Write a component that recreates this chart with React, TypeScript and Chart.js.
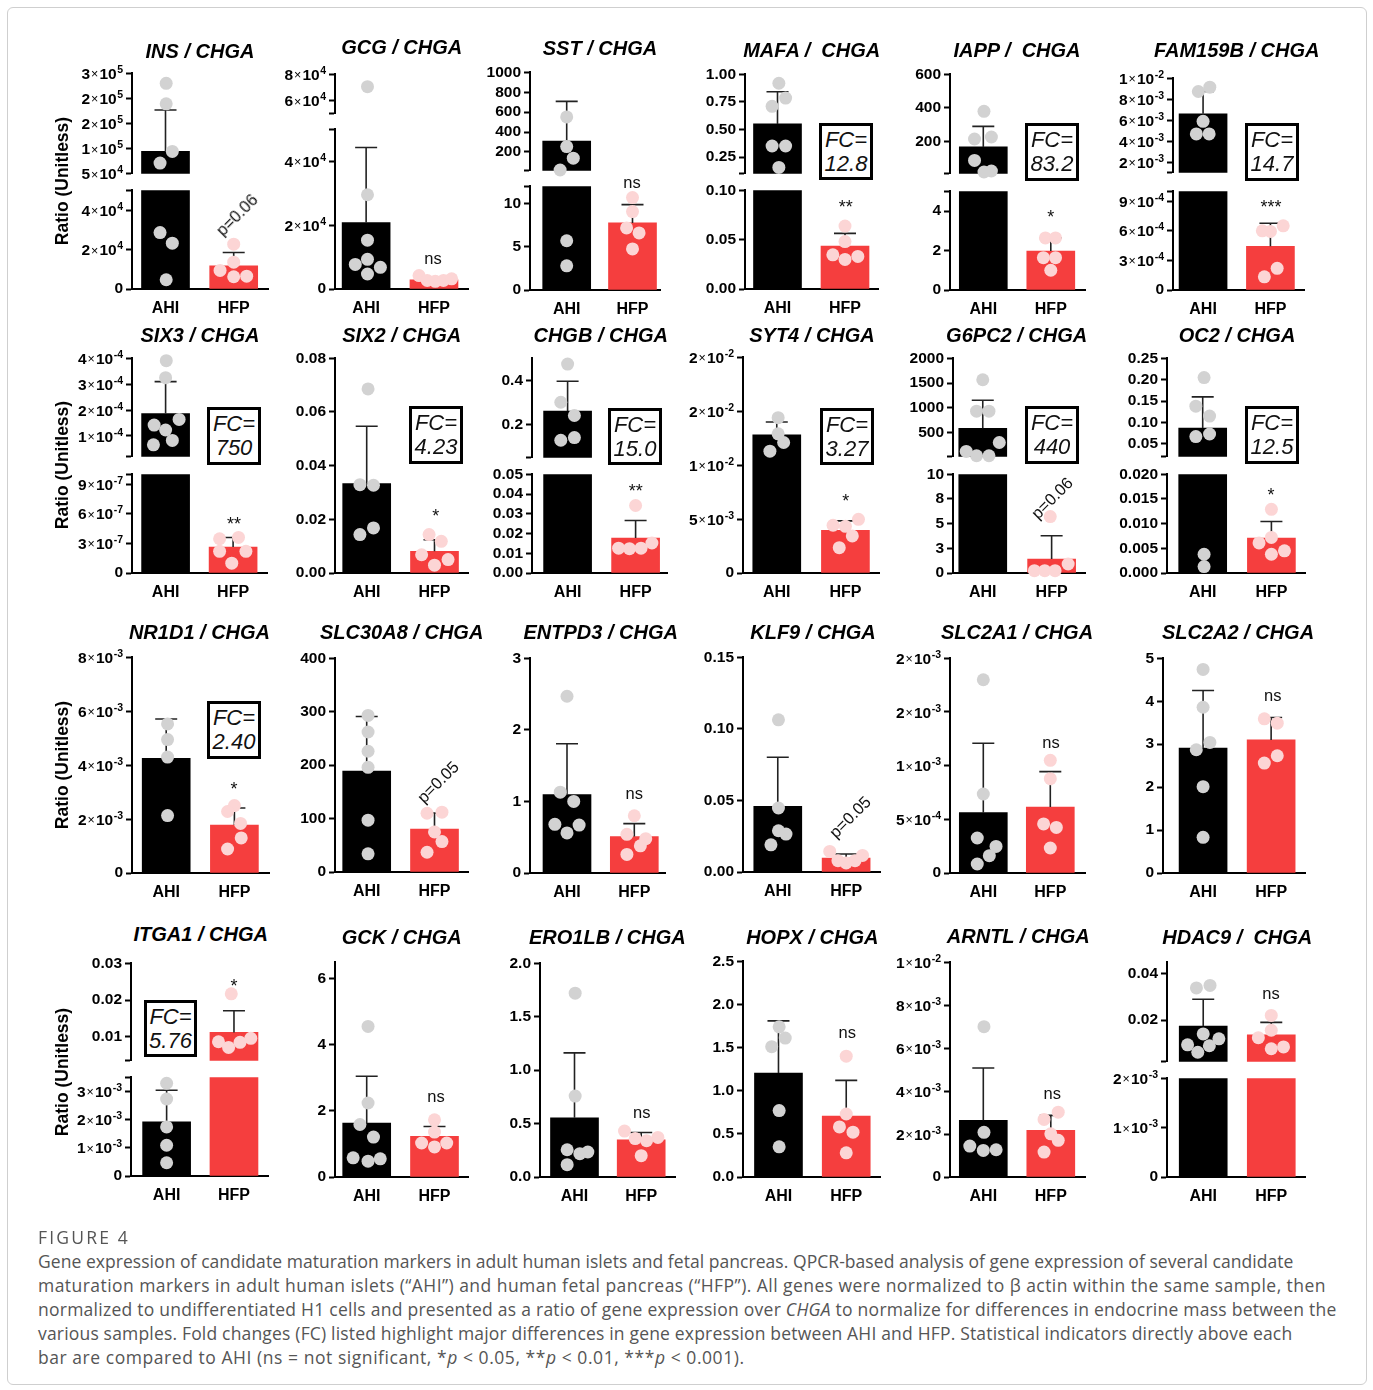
import React, { useEffect, useRef } from "react";
import { Chart, registerables } from "chart.js";

Chart.register(...registerables);

// ---------------- data ----------------
const CATEGORIES = ["AHI", "HFP"];

const INS_AHI = [2.75e5, 2.24e5, 1.055e5, 7.65e4, 2.86e4, 2.32e4, 4.7e3];
const INS_AHI_X = [0.01, 0.01, 0.1, -0.08, -0.08, 0.1, 0.01];
const INS_HFP = [2.27e4, 1.36e4, 9.4e3, 6.5e3, 6.2e3];
const INS_HFP_X = [0, 0, -0.2, 0.19, 0];
const INS_MEAN = [1.055e5, 1.18e4];
const INS_SD = [1.03e5, 6.7e3];
const INS_T_HI = [5e4, 1.125e5, 1.75e5, 2.375e5, 3e5];
const INS_L_HI = ["5×10⁴", "1×10⁵", "2×10⁵", "2×10⁵", "3×10⁵"];
const INS_T_LO = [0, 2e4, 4e4, 5e4];
const INS_L_LO = ["0", "2×10⁴", "4×10⁴", ""];

const GCG_AHI = [7.06e4, 2.95e4, 1.53e4, 9.3e3, 7.7e3, 6.8e3, 4.7e3];
const GCG_AHI_X = [0.02, 0.02, 0.02, 0.02, -0.16, 0.21, 0.02];
const GCG_HFP = [4.2e3, 2.7e3, 2.4e3, 2.7e3, 3.2e3];
const GCG_HFP_X = [-0.22, -0.1, 0.02, 0.14, 0.26];
const GCG_MEAN = [2.08e4, 2.9e3];
const GCG_SD = [2.35e4, 6e2];
const GCG_T_HI = [5e4, 6e4, 8e4];
const GCG_L_HI = ["", "6×10⁴", "8×10⁴"];
const GCG_T_LO = [0, 2e4, 4e4, 5e4];
const GCG_L_LO = ["0", "2×10⁴", "4×10⁴", ""];

const SST_AHI = [552, 254, 138, 19, 5.7, 2.8];
const SST_AHI_X = [0, 0, 0.1, -0.1, 0, 0];
const SST_HFP = [10.7, 9.07, 7.18, 6.6, 4.75];
const SST_HFP_X = [0, 0, -0.09, 0.1, 0];
const SST_MEAN = [310, 7.76];
const SST_SD = [398, 2.12];
const SST_T_HI = [12, 200, 400, 600, 800, 1000];
const SST_L_HI = ["", "200", "400", "600", "800", "1000"];
const SST_T_LO = [0, 5, 10, 12];
const SST_L_LO = ["0", "5", "10", ""];

const MAFA_AHI = [0.919, 0.785, 0.71, 0.351, 0.351, 0.157];
const MAFA_AHI_X = [0.02, 0.12, -0.08, -0.08, 0.12, 0.02];
const MAFA_HFP = [0.0638, 0.048, 0.0346, 0.03, 0.033];
const MAFA_HFP_X = [0, 0, -0.18, 0, 0.19];
const MAFA_MEAN = [0.551, 0.0436];
const MAFA_SD = [0.291, 0.0128];
const MAFA_T_HI = [0.1, 0.25, 0.5, 0.75, 1.0];
const MAFA_L_HI = ["", "0.25", "0.50", "0.75", "1.00"];
const MAFA_T_LO = [0, 0.05, 0.1];
const MAFA_L_LO = ["0.00", "0.05", "0.10"];

const IAPP_AHI = [380, 228, 216, 89, 26, 20];
const IAPP_AHI_X = [0.01, 0.12, -0.13, -0.13, 0.12, 0.01];
const IAPP_HFP = [2.64, 2.64, 1.64, 1.64, 1.0];
const IAPP_HFP_X = [-0.08, 0.07, -0.11, 0.07, 0];
const IAPP_MEAN = [169, 1.97];
const IAPP_SD = [122, 0.67];
const IAPP_T_HI = [10, 200, 400, 600];
const IAPP_L_HI = ["", "200", "400", "600"];
const IAPP_T_LO = [0, 2, 4, 5];
const IAPP_L_LO = ["0", "2", "4", ""];

const FAM_AHI = [9.15e-3, 8.74e-3, 5.9e-3, 4.7e-3, 4.7e-3];
const FAM_AHI_X = [0.1, -0.07, 0, -0.1, 0.09];
const FAM_HFP = [6.5e-4, 5.93e-4, 6.0e-4, 2.2e-4, 1.33e-4];
const FAM_HFP_X = [0.19, 0.0, -0.12, 0.1, -0.09];
const FAM_MEAN = [6.62e-3, 4.43e-4];
const FAM_SD = [2.12e-3, 2.34e-4];
const FAM_T_HI = [1e-3, 2e-3, 4e-3, 6e-3, 8e-3, 1e-2];
const FAM_L_HI = ["", "2×10⁻³", "4×10⁻³", "6×10⁻³", "8×10⁻³", "1×10⁻²"];
const FAM_T_LO = [0, 3e-4, 6e-4, 9e-4, 1e-3];
const FAM_L_LO = ["0", "3×10⁻⁴", "6×10⁻⁴", "9×10⁻⁴", ""];

const SIX3_AHI = [3.91e-4, 3.25e-4, 1.64e-4, 1.42e-4, 1.23e-4, 8.3e-5, 6.6e-5];
const SIX3_AHI_X = [0.01, 0.0, 0.2, -0.17, 0.0, 0.1, -0.18];
const SIX3_HFP = [3.47e-7, 3.6e-7, 2.2e-7, 2.2e-7, 1.0e-7];
const SIX3_HFP_X = [-0.2, 0.08, 0.19, -0.2, -0.02];
const SIX3_MEAN = [1.87e-4, 2.63e-7];
const SIX3_SD = [1.23e-4, 9.7e-8];
const SIX3_T_HI = [2e-5, 1e-4, 2e-4, 3e-4, 4e-4];
const SIX3_L_HI = ["", "1×10⁻⁴", "2×10⁻⁴", "3×10⁻⁴", "4×10⁻⁴"];
const SIX3_T_LO = [0, 3e-7, 6e-7, 9e-7, 1e-6];
const SIX3_L_LO = ["0", "3×10⁻⁷", "6×10⁻⁷", "9×10⁻⁷", ""];

const SIX2_AHI = [0.0686, 0.0329, 0.0327, 0.0168, 0.0143];
const SIX2_AHI_X = [0.02, -0.1, 0.1, 0.1, -0.1];
const SIX2_HFP = [0.0143, 0.0118, 0.0068, 0.005, 0.0029];
const SIX2_HFP_X = [-0.08, 0.1, -0.19, 0.2, 0.0];
const SIX2_MEAN = [0.0333, 0.0081];
const SIX2_SD = [0.0214, 0.0043];
const SIX2_T = [0, 0.02, 0.04, 0.06, 0.08];
const SIX2_L = ["0.00", "0.02", "0.04", "0.06", "0.08"];

const CHGB_AHI = [0.474, 0.301, 0.241, 0.141, 0.129];
const CHGB_AHI_X = [0, -0.1, 0.1, 0.1, -0.1];
const CHGB_HFP = [0.0342, 0.0152, 0.0126, 0.0126, 0.0123];
const CHGB_HFP_X = [0, 0.24, -0.25, 0.08, -0.09];
const CHGB_MEAN = [0.261, 0.0177];
const CHGB_SD = [0.135, 0.0089];
const CHGB_T_HI = [0.05, 0.2, 0.4];
const CHGB_L_HI = ["", "0.2", "0.4"];
const CHGB_T_LO = [0, 0.01, 0.02, 0.03, 0.04, 0.05];
const CHGB_L_LO = ["0.00", "0.01", "0.02", "0.03", "0.04", "0.05"];

const SYT4_AHI = [0.0144, 0.0129, 0.0121, 0.0113];
const SYT4_AHI_X = [0.02, 0.02, 0.1, -0.1];
const SYT4_HFP = [0.00498, 0.00443, 0.00433, 0.00344, 0.00235];
const SYT4_HFP_X = [0.19, -0.18, 0, 0.1, -0.09];
const SYT4_MEAN = [0.0128, 0.00396];
const SYT4_SD = [0.0012, 0.00087];
const SYT4_T = [0, 0.005, 0.01, 0.015, 0.02];
const SYT4_L = ["0", "5×10⁻³", "1×10⁻²", "2×10⁻²", "2×10⁻²"];

const G6PC2_AHI = [1566, 931, 931, 297, 116, 29, 29];
const G6PC2_AHI_X = [0, -0.09, 0.09, 0.24, -0.24, -0.09, 0.09];
const G6PC2_HFP = [5.72, 0.91, 0.24, 0.24, 0.24];
const G6PC2_HFP_X = [-0.02, 0.24, -0.25, -0.1, 0.05];
const G6PC2_MEAN = [584, 1.41];
const G6PC2_SD = [568, 2.36];
const G6PC2_T_HI = [10, 500, 1000, 1500, 2000];
const G6PC2_L_HI = ["", "500", "1000", "1500", "2000"];
const G6PC2_T_LO = [0, 2.5, 5, 7.5, 10];
const G6PC2_L_LO = ["0", "3", "5", "8", "10"];

const OC2_AHI = [0.205, 0.138, 0.115, 0.073, 0.067, 0.0038, 0.0013];
const OC2_AHI_X = [0.02, -0.1, 0.1, 0.1, -0.1, 0.02, 0.02];
const OC2_HFP = [0.0129, 0.0072, 0.0061, 0.0045, 0.0038];
const OC2_HFP_X = [0, 0, -0.18, 0.19, 0];
const OC2_MEAN = [0.0869, 0.00707];
const OC2_SD = [0.073, 0.00337];
const OC2_T_HI = [0.02, 0.05, 0.1, 0.15, 0.2, 0.25];
const OC2_L_HI = ["", "0.05", "0.10", "0.15", "0.20", "0.25"];
const OC2_T_LO = [0, 0.005, 0.01, 0.015, 0.02];
const OC2_L_LO = ["0.000", "0.005", "0.010", "0.015", "0.020"];

const NR1D1_AHI = [5.53e-3, 4.95e-3, 4.3e-3, 2.13e-3];
const NR1D1_AHI_X = [0.02, 0.02, 0.02, 0.02];
const NR1D1_HFP = [2.5e-3, 2.28e-3, 1.84e-3, 1.3e-3, 0.89e-3];
const NR1D1_HFP_X = [0, -0.1, 0.09, 0.1, -0.1];
const NR1D1_MEAN = [4.25e-3, 1.78e-3];
const NR1D1_SD = [1.46e-3, 6.3e-4];
const NR1D1_T = [0, 2e-3, 4e-3, 6e-3, 8e-3];
const NR1D1_L = ["0", "2×10⁻³", "4×10⁻³", "6×10⁻³", "8×10⁻³"];

const SLC30A8_AHI = [293, 262, 226, 196, 97, 34];
const SLC30A8_AHI_X = [0.02, 0.02, 0.02, 0.02, 0.02, 0.02];
const SLC30A8_HFP = [112, 110, 75, 57, 37];
const SLC30A8_HFP_X = [0.11, -0.11, 0, 0.11, -0.11];
const SLC30A8_MEAN = [189, 80.4];
const SLC30A8_SD = [102, 30];
const SLC30A8_T = [0, 100, 200, 300, 400];
const SLC30A8_L = ["0", "100", "200", "300", "400"];

const ENTPD3_AHI = [2.47, 1.13, 1.0, 0.68, 0.67, 0.56];
const ENTPD3_AHI_X = [0, -0.1, 0.1, -0.18, 0.18, 0];
const ENTPD3_HFP = [0.8, 0.54, 0.48, 0.38, 0.26];
const ENTPD3_HFP_X = [0, -0.11, 0.17, 0.09, -0.11];
const ENTPD3_MEAN = [1.095, 0.51];
const ENTPD3_SD = [0.71, 0.18];
const ENTPD3_T = [0, 1, 2, 3];
const ENTPD3_L = ["0", "1", "2", "3"];

const KLF9_AHI = [0.1063, 0.0447, 0.0288, 0.0265, 0.019];
const KLF9_AHI_X = [0.01, 0.01, 0.01, 0.12, -0.1];
const KLF9_HFP = [0.0144, 0.0079, 0.0063, 0.0079, 0.0116];
const KLF9_HFP_X = [-0.24, -0.12, 0, 0.13, 0.24];
const KLF9_MEAN = [0.0458, 0.0098];
const KLF9_SD = [0.0344, 0.0028];
const KLF9_T = [0, 0.05, 0.1, 0.15];
const KLF9_L = ["0.00", "0.05", "0.10", "0.15"];

const SLC2A1_AHI = [1.8e-3, 7.36e-4, 3.26e-4, 2.48e-4, 1.61e-4, 8.4e-5];
const SLC2A1_AHI_X = [0, 0, -0.09, 0.19, 0.09, -0.09];
const SLC2A1_HFP = [1.05e-3, 8.79e-4, 4.57e-4, 4.25e-4, 2.33e-4];
const SLC2A1_HFP_X = [0, 0, -0.1, 0.09, 0];
const SLC2A1_MEAN = [5.62e-4, 6.15e-4];
const SLC2A1_SD = [6.46e-4, 3.29e-4];
const SLC2A1_T = [0, 5e-4, 1e-3, 1.5e-3, 2e-3];
const SLC2A1_L = ["0", "5×10⁻⁴", "1×10⁻³", "2×10⁻³", "2×10⁻³"];

const SLC2A2_AHI = [4.74, 3.86, 3.04, 2.87, 2.01, 0.83];
const SLC2A2_AHI_X = [0, 0, 0.1, -0.1, 0, 0];
const SLC2A2_HFP = [3.59, 3.49, 2.73, 2.56];
const SLC2A2_HFP_X = [-0.1, 0.09, 0.09, -0.1];
const SLC2A2_MEAN = [2.91, 3.1];
const SLC2A2_SD = [1.34, 0.52];
const SLC2A2_T = [0, 1, 2, 3, 4, 5];
const SLC2A2_L = ["0", "1", "2", "3", "4", "5"];

const ITGA1_AHI = [3.29e-3, 2.73e-3, 1.74e-3, 1.09e-3, 4.7e-4];
const ITGA1_AHI_X = [0, 0, 0, 0, 0];
const ITGA1_HFP = [0.0217, 0.0096, 0.00865, 0.0085, 0.0071];
const ITGA1_HFP_X = [-0.04, 0.25, -0.23, 0.09, -0.08];
const ITGA1_MEAN = [1.92e-3, 0.0112];
const ITGA1_SD = [1.12e-3, 0.0059];
const ITGA1_T_HI = [3.5e-3, 0.01, 0.02, 0.03];
const ITGA1_L_HI = ["", "0.01", "0.02", "0.03"];
const ITGA1_T_LO = [0, 1e-3, 2e-3, 3e-3, 3.5e-3];
const ITGA1_L_LO = ["0", "1×10⁻³", "2×10⁻³", "3×10⁻³", ""];

const GCK_AHI = [4.56, 2.24, 1.59, 1.21, 0.58, 0.55, 0.48];
const GCK_AHI_X = [0.02, 0.02, -0.1, 0.1, -0.2, 0.2, 0.02];
const GCK_HFP = [1.73, 1.36, 1.03, 1.03, 0.91];
const GCK_HFP_X = [0, 0, -0.19, 0.18, 0];
const GCK_MEAN = [1.63, 1.23];
const GCK_SD = [1.42, 0.3];
const GCK_T = [0, 2, 4, 6];
const GCK_L = ["0", "2", "4", "6"];

const ERO1LB_AHI = [1.72, 0.757, 0.255, 0.234, 0.218, 0.115];
const ERO1LB_AHI_X = [0.01, 0.01, -0.11, 0.2, 0.08, -0.11];
const ERO1LB_HFP = [0.43, 0.37, 0.36, 0.34, 0.2];
const ERO1LB_HFP_X = [-0.25, 0.25, -0.09, 0.08, 0];
const ERO1LB_MEAN = [0.554, 0.349];
const ERO1LB_SD = [0.608, 0.068];
const ERO1LB_T = [0, 0.5, 1, 1.5, 2];
const ERO1LB_L = ["0.0", "0.5", "1.0", "1.5", "2.0"];

const HOPX_AHI = [1.74, 1.61, 1.51, 0.77, 0.35];
const HOPX_AHI_X = [0.01, 0.1, -0.1, 0.01, 0.01];
const HOPX_HFP = [1.4, 0.73, 0.58, 0.52, 0.28];
const HOPX_HFP_X = [0, 0, -0.1, 0.1, 0];
const HOPX_MEAN = [1.205, 0.707];
const HOPX_SD = [0.605, 0.413];
const HOPX_T = [0, 0.5, 1, 1.5, 2, 2.5];
const HOPX_L = ["0.0", "0.5", "1.0", "1.5", "2.0", "2.5"];

const ARNTL_AHI = [7.0e-3, 2.08e-3, 1.44e-3, 1.27e-3, 1.24e-3];
const ARNTL_AHI_X = [0.01, 0.01, -0.2, 0.19, 0];
const ARNTL_HFP = [3.02e-3, 2.68e-3, 2.01e-3, 1.71e-3, 1.16e-3];
const ARNTL_HFP_X = [0.11, -0.1, 0, 0.11, -0.1];
const ARNTL_MEAN = [2.64e-3, 2.17e-3];
const ARNTL_SD = [2.44e-3, 0.7e-3];
const ARNTL_T = [0, 2e-3, 4e-3, 6e-3, 8e-3, 1e-2];
const ARNTL_L = ["0", "2×10⁻³", "4×10⁻³", "6×10⁻³", "8×10⁻³", "1×10⁻²"];

const HDAC9_AHI = [0.035, 0.0339, 0.014, 0.0119, 0.0093, 0.0089, 0.0061];
const HDAC9_AHI_X = [0.1, -0.1, 0, 0.23, -0.23, 0.09, -0.08];
const HDAC9_HFP = [0.022, 0.0156, 0.0124, 0.0084, 0.0076];
const HDAC9_HFP_X = [0, 0, -0.19, 0.18, 0];
const HDAC9_MEAN = [0.01743, 0.0136];
const HDAC9_SD = [0.0116, 0.0054];
const HDAC9_T_HI = [0.002, 0.02, 0.04];
const HDAC9_L_HI = ["", "0.02", "0.04"];
const HDAC9_T_LO = [0, 1e-3, 2e-3];
const HDAC9_L_LO = ["0", "1×10⁻³", "2×10⁻³"];

// ---------------- styles / layout ----------------
const FONT = '"Liberation Sans", Arial, Helvetica, sans-serif';
const BAR_AHI = "#000000";
const BAR_HFP = "#f53e3e";
const DOT_AHI = "#d2d2d2";
const DOT_HFP = "#fcd5d5";
const LW = 96;
const PR = 8;
const PAD = 12;
const PB = 34;
const TICK_LEN = 6;
const TICK_PAD = 3;
const TICK_SIZE = 15.5;

type Seg = { min: number; max: number; ticks: number[]; labels: string[]; top: number; bottom: number };
const S = (min: number, max: number, ticks: number[], labels: string[], top: number, bottom: number): Seg => ({ min, max, ticks, labels, top, bottom });

const PANELS: any[] = [
  { title: "INS / CHGA", tx: 200, ty: 51.7, L: 132.3, R: 268.3, c0: 165.8, c1: 234,
    segs: [S(5e4, 3e5, INS_T_HI, INS_L_HI, 73.3, 174), S(0, 5e4, INS_T_LO, INS_L_LO, 190, 289.3)],
    ahi: INS_AHI, ahiX: INS_AHI_X, hfp: INS_HFP, hfpX: INS_HFP_X, mean: INS_MEAN, sd: INS_SD },
  { title: "GCG / CHGA", tx: 401.7, ty: 48, L: 335, R: 468.3, c0: 366.2, c1: 434.2,
    segs: [S(5e4, 8e4, GCG_T_HI, GCG_L_HI, 73.7, 114), S(0, 5e4, GCG_T_LO, GCG_L_LO, 129.3, 289.3)],
    ahi: GCG_AHI, ahiX: GCG_AHI_X, hfp: GCG_HFP, hfpX: GCG_HFP_X, mean: GCG_MEAN, sd: GCG_SD },
  { title: "SST / CHGA", tx: 600, ty: 48.5, L: 530, R: 660, c0: 566.7, c1: 632.5,
    segs: [S(12, 1000, SST_T_HI, SST_L_HI, 72.3, 171.7), S(0, 12, SST_T_LO, SST_L_LO, 185.7, 289.3)],
    ahi: SST_AHI, ahiX: SST_AHI_X, hfp: SST_HFP, hfpX: SST_HFP_X, mean: SST_MEAN, sd: SST_SD },
  { title: "MAFA /  CHGA", tx: 811.7, ty: 51, L: 745, R: 878, c0: 777.5, c1: 845,
    segs: [S(0.1, 1.0, MAFA_T_HI, MAFA_L_HI, 74.3, 174), S(0, 0.1, MAFA_T_LO, MAFA_L_LO, 190, 289.3)],
    ahi: MAFA_AHI, ahiX: MAFA_AHI_X, hfp: MAFA_HFP, hfpX: MAFA_HFP_X, mean: MAFA_MEAN, sd: MAFA_SD },
  { title: "IAPP /  CHGA", tx: 1017, ty: 51, L: 950, R: 1085, c0: 983.3, c1: 1050.8,
    segs: [S(10, 600, IAPP_T_HI, IAPP_L_HI, 74.3, 174.3), S(0, 5, IAPP_T_LO, IAPP_L_LO, 190.7, 289.3)],
    ahi: IAPP_AHI, ahiX: IAPP_AHI_X, hfp: IAPP_HFP, hfpX: IAPP_HFP_X, mean: IAPP_MEAN, sd: IAPP_SD },
  { title: "FAM159B / CHGA", tx: 1236.7, ty: 51, L: 1173.3, R: 1304, c0: 1203.3, c1: 1270.5,
    segs: [S(1e-3, 1e-2, FAM_T_HI, FAM_L_HI, 78.3, 173.3), S(0, 1e-3, FAM_T_LO, FAM_L_LO, 190.7, 289.3)],
    ahi: FAM_AHI, ahiX: FAM_AHI_X, hfp: FAM_HFP, hfpX: FAM_HFP_X, mean: FAM_MEAN, sd: FAM_SD },

  { title: "SIX3 / CHGA", tx: 200, ty: 335.7, L: 132.3, R: 267.7, c0: 166, c1: 233.7,
    segs: [S(2e-5, 4e-4, SIX3_T_HI, SIX3_L_HI, 358.3, 457.7), S(0, 1e-6, SIX3_T_LO, SIX3_L_LO, 474.3, 573.3)],
    ahi: SIX3_AHI, ahiX: SIX3_AHI_X, hfp: SIX3_HFP, hfpX: SIX3_HFP_X, mean: SIX3_MEAN, sd: SIX3_SD },
  { title: "SIX2 / CHGA", tx: 401.7, ty: 335.7, L: 335, R: 468, c0: 366.7, c1: 434.5,
    segs: [S(0, 0.08, SIX2_T, SIX2_L, 358.3, 573.3)],
    ahi: SIX2_AHI, ahiX: SIX2_AHI_X, hfp: SIX2_HFP, hfpX: SIX2_HFP_X, mean: SIX2_MEAN, sd: SIX2_SD },
  { title: "CHGB / CHGA", tx: 600.7, ty: 335.7, L: 531.7, R: 666.7, c0: 567.3, c1: 635.3,
    segs: [S(0.05, 0.5, CHGB_T_HI, CHGB_L_HI, 357.7, 457.7), S(0, 0.05, CHGB_T_LO, CHGB_L_LO, 474.3, 573.3)],
    ahi: CHGB_AHI, ahiX: CHGB_AHI_X, hfp: CHGB_HFP, hfpX: CHGB_HFP_X, mean: CHGB_MEAN, sd: CHGB_SD },
  { title: "SYT4 / CHGA", tx: 812, ty: 335.7, L: 743.3, R: 879, c0: 777, c1: 845.5,
    segs: [S(0, 0.02, SYT4_T, SYT4_L, 357.3, 573)],
    ahi: SYT4_AHI, ahiX: SYT4_AHI_X, hfp: SYT4_HFP, hfpX: SYT4_HFP_X, mean: SYT4_MEAN, sd: SYT4_SD },
  { title: "G6PC2 / CHGA", tx: 1016.7, ty: 335.7, L: 953.3, R: 1085, c0: 983, c1: 1051.7,
    segs: [S(10, 2000, G6PC2_T_HI, G6PC2_L_HI, 358.3, 457.7), S(0, 10, G6PC2_T_LO, G6PC2_L_LO, 474.3, 573.3)],
    ahi: G6PC2_AHI, ahiX: G6PC2_AHI_X, hfp: G6PC2_HFP, hfpX: G6PC2_HFP_X, mean: G6PC2_MEAN, sd: G6PC2_SD },
  { title: "OC2 / CHGA", tx: 1237, ty: 335.7, L: 1166.7, R: 1304.3, c0: 1202.3, c1: 1270.8,
    segs: [S(0.02, 0.25, OC2_T_HI, OC2_L_HI, 358.3, 457.7), S(0, 0.02, OC2_T_LO, OC2_L_LO, 474.3, 573.3)],
    ahi: OC2_AHI, ahiX: OC2_AHI_X, hfp: OC2_HFP, hfpX: OC2_HFP_X, mean: OC2_MEAN, sd: OC2_SD },

  { title: "NR1D1 / CHGA", tx: 199.5, ty: 633.3, L: 131.7, R: 268.3, c0: 165.8, c1: 233.8,
    segs: [S(0, 8e-3, NR1D1_T, NR1D1_L, 656.7, 872.3)],
    ahi: NR1D1_AHI, ahiX: NR1D1_AHI_X, hfp: NR1D1_HFP, hfpX: NR1D1_HFP_X, mean: NR1D1_MEAN, sd: NR1D1_SD },
  { title: "SLC30A8 / CHGA", tx: 401.7, ty: 633.3, L: 335, R: 468, c0: 366.7, c1: 434.5,
    segs: [S(0, 400, SLC30A8_T, SLC30A8_L, 658.3, 872.3)],
    ahi: SLC30A8_AHI, ahiX: SLC30A8_AHI_X, hfp: SLC30A8_HFP, hfpX: SLC30A8_HFP_X, mean: SLC30A8_MEAN, sd: SLC30A8_SD },
  { title: "ENTPD3 / CHGA", tx: 600.7, ty: 633.3, L: 530, R: 665, c0: 567, c1: 634.3,
    segs: [S(0, 3, ENTPD3_T, ENTPD3_L, 657.7, 872.3)],
    ahi: ENTPD3_AHI, ahiX: ENTPD3_AHI_X, hfp: ENTPD3_HFP, hfpX: ENTPD3_HFP_X, mean: ENTPD3_MEAN, sd: ENTPD3_SD },
  { title: "KLF9 / CHGA", tx: 813, ty: 633.3, L: 743.3, R: 880, c0: 778, c1: 846.2,
    segs: [S(0, 0.15, KLF9_T, KLF9_L, 657.3, 872.3)],
    ahi: KLF9_AHI, ahiX: KLF9_AHI_X, hfp: KLF9_HFP, hfpX: KLF9_HFP_X, mean: KLF9_MEAN, sd: KLF9_SD },
  { title: "SLC2A1 / CHGA", tx: 1017, ty: 633.3, L: 950, R: 1085, c0: 983.3, c1: 1050.3,
    segs: [S(0, 2e-3, SLC2A1_T, SLC2A1_L, 657.7, 872.3)],
    ahi: SLC2A1_AHI, ahiX: SLC2A1_AHI_X, hfp: SLC2A1_HFP, hfpX: SLC2A1_HFP_X, mean: SLC2A1_MEAN, sd: SLC2A1_SD },
  { title: "SLC2A2 / CHGA", tx: 1238, ty: 633.3, L: 1163.3, R: 1305, c0: 1203.3, c1: 1271.2,
    segs: [S(0, 5, SLC2A2_T, SLC2A2_L, 657.7, 872.3)],
    ahi: SLC2A2_AHI, ahiX: SLC2A2_AHI_X, hfp: SLC2A2_HFP, hfpX: SLC2A2_HFP_X, mean: SLC2A2_MEAN, sd: SLC2A2_SD },

  { title: "ITGA1 / CHGA", tx: 200.7, ty: 935, L: 131, R: 268.3, c0: 166.7, c1: 234.2,
    segs: [S(3.5e-3, 0.03, ITGA1_T_HI, ITGA1_L_HI, 963.3, 1061), S(0, 3.5e-3, ITGA1_T_LO, ITGA1_L_LO, 1077.3, 1176.7)],
    ahi: ITGA1_AHI, ahiX: ITGA1_AHI_X, hfp: ITGA1_HFP, hfpX: ITGA1_HFP_X, mean: ITGA1_MEAN, sd: ITGA1_SD },
  { title: "GCK / CHGA", tx: 401.7, ty: 938.3, L: 335, R: 468, c0: 366.7, c1: 434.5,
    segs: [S(0, 6.5, GCK_T, GCK_L, 961.7, 1176.7)],
    ahi: GCK_AHI, ahiX: GCK_AHI_X, hfp: GCK_HFP, hfpX: GCK_HFP_X, mean: GCK_MEAN, sd: GCK_SD },
  { title: "ERO1LB / CHGA", tx: 607.3, ty: 938.3, L: 540, R: 675, c0: 574.5, c1: 641.2,
    segs: [S(0, 2, ERO1LB_T, ERO1LB_L, 962.7, 1176.7)],
    ahi: ERO1LB_AHI, ahiX: ERO1LB_AHI_X, hfp: ERO1LB_HFP, hfpX: ERO1LB_HFP_X, mean: ERO1LB_MEAN, sd: ERO1LB_SD },
  { title: "HOPX / CHGA", tx: 812.3, ty: 938, L: 743.3, R: 880, c0: 778.7, c1: 846.3,
    segs: [S(0, 2.5, HOPX_T, HOPX_L, 961, 1176.7)],
    ahi: HOPX_AHI, ahiX: HOPX_AHI_X, hfp: HOPX_HFP, hfpX: HOPX_HFP_X, mean: HOPX_MEAN, sd: HOPX_SD },
  { title: "ARNTL / CHGA", tx: 1018.3, ty: 936.7, L: 950, R: 1085, c0: 983.3, c1: 1050.8,
    segs: [S(0, 0.01, ARNTL_T, ARNTL_L, 961.7, 1176.7)],
    ahi: ARNTL_AHI, ahiX: ARNTL_AHI_X, hfp: ARNTL_HFP, hfpX: ARNTL_HFP_X, mean: ARNTL_MEAN, sd: ARNTL_SD },
  { title: "HDAC9 /  CHGA", tx: 1237.3, ty: 938.3, L: 1166.7, R: 1305, c0: 1203, c1: 1271.2,
    segs: [S(0.002, 0.045, HDAC9_T_HI, HDAC9_L_HI, 961.7, 1061.7), S(0, 2e-3, HDAC9_T_LO, HDAC9_L_LO, 1077.7, 1176.7)],
    ahi: HDAC9_AHI, ahiX: HDAC9_AHI_X, hfp: HDAC9_HFP, hfpX: HDAC9_HFP_X, mean: HDAC9_MEAN, sd: HDAC9_SD },
];

const SIGNS = [
  { t: "p=0.06", x: 237, y: 215, rot: true },
  { t: "ns", x: 433, y: 258 },
  { t: "ns", x: 632, y: 182 },
  { t: "**", x: 845.7, y: 203 },
  { t: "*", x: 1050.7, y: 213 },
  { t: "***", x: 1271, y: 203 },
  { t: "**", x: 234, y: 520 },
  { t: "*", x: 435.7, y: 511.7 },
  { t: "**", x: 635.7, y: 486.7 },
  { t: "*", x: 845.7, y: 496.7 },
  { t: "p=0.06", x: 1051.7, y: 498.3, rot: true },
  { t: "*", x: 1271, y: 491 },
  { t: "*", x: 234, y: 785 },
  { t: "p=0.05", x: 438.3, y: 781.7, rot: true },
  { t: "ns", x: 634.3, y: 793.3 },
  { t: "p=0.05", x: 850, y: 816.7, rot: true },
  { t: "ns", x: 1051, y: 741.7 },
  { t: "ns", x: 1272.7, y: 695 },
  { t: "*", x: 234, y: 981.7 },
  { t: "ns", x: 436, y: 1096 },
  { t: "ns", x: 641.7, y: 1111.7 },
  { t: "ns", x: 847.3, y: 1031.7 },
  { t: "ns", x: 1052.3, y: 1092.7 },
  { t: "ns", x: 1271, y: 993.3 },
];

const FC_BOXES = [
  { v: "12.8", x: 819, y: 123, w: 54, h: 57 },
  { v: "83.2", x: 1025, y: 123, w: 54, h: 58 },
  { v: "14.7", x: 1245, y: 123, w: 54, h: 58 },
  { v: "750", x: 207, y: 407, w: 54, h: 58 },
  { v: "4.23", x: 409, y: 406, w: 54, h: 58 },
  { v: "15.0", x: 608, y: 408, w: 54, h: 57 },
  { v: "3.27", x: 820, y: 408, w: 54, h: 57 },
  { v: "440", x: 1025, y: 406, w: 54, h: 58 },
  { v: "12.5", x: 1245, y: 406, w: 54, h: 58 },
  { v: "2.40", x: 207, y: 701, w: 54, h: 58 },
  { v: "5.76", x: 144, y: 1000, w: 53, h: 57 },
];

const YTITLE_Y = [181, 465, 765, 1072];

const SUP: Record<string, string> = { "⁰": "0", "¹": "1", "²": "2", "³": "3", "⁴": "4", "⁵": "5", "⁶": "6", "⁷": "7", "⁸": "8", "⁹": "9", "⁻": "-" };

// ---------------- chart segment ----------------
function SegChart({ p, s, isBottom }: { p: any; s: Seg; isBottom: boolean }) {
  const ref = useRef<HTMLCanvasElement>(null);
  const W = p.R - p.L;
  const h = s.bottom - s.top;
  const cw = Math.round(LW + W + PR);
  const ch = Math.round(PAD + h + (isBottom ? PB : PAD));
  const left = p.L - LW;
  const top = s.top - PAD;

  useEffect(() => {
    const unit = p.c1 - p.c0;
    const xmin = -(p.c0 - p.L) / unit;
    const xmax = 1 + (p.R - p.c1) / unit;
    const eps = (s.max - s.min) * 1e-6;
    const pts: any[] = [];
    p.ahi.forEach((v: number, i: number) => pts.push({ x: p.ahiX[i], y: v, c: DOT_AHI }));
    p.hfp.forEach((v: number, i: number) => pts.push({ x: 1 + p.hfpX[i], y: v, c: DOT_HFP }));
    const segPts = pts.filter((q) => q.y >= s.min - eps && q.y <= s.max + eps);

    const errPlugin = {
      id: "errorBars",
      afterDatasetDraw(chart: any, args: any) {
        if (args.index !== 0) return;
        const { ctx, chartArea: a, scales } = chart;
        ctx.save();
        ctx.beginPath();
        ctx.rect(a.left, a.top - 2, a.right - a.left, a.bottom - a.top + 2);
        ctx.clip();
        ctx.strokeStyle = "#222222";
        ctx.lineWidth = 1.6;
        p.mean.forEach((m: number, i: number) => {
          const hiVal = m + p.sd[i];
          if (hiVal < s.min || m > s.max) return;
          const x = scales.x.getPixelForValue(i);
          const y0 = scales.y.getPixelForValue(Math.max(m, s.min));
          const y1 = scales.y.getPixelForValue(hiVal);
          ctx.beginPath();
          ctx.moveTo(x, y0);
          ctx.lineTo(x, y1);
          ctx.stroke();
          if (hiVal <= s.max) {
            ctx.beginPath();
            ctx.moveTo(x - 11, y1);
            ctx.lineTo(x + 11, y1);
            ctx.stroke();
          }
        });
        ctx.restore();
      },
    };

    // draws the "m×10^e" tick labels with a real superscript exponent
    const sciLabels = {
      id: "sciLabels",
      afterDraw(chart: any) {
        const { ctx, scales, chartArea: a } = chart;
        const ys = scales.y;
        const right = a.left - TICK_LEN - TICK_PAD;
        ctx.save();
        ctx.fillStyle = "#000";
        ctx.textBaseline = "alphabetic";
        ctx.textAlign = "left";
        ys.ticks.forEach((t: any, i: number) => {
          const lab = s.labels[i] || "";
          const k = lab.indexOf("×10");
          if (k < 0) return;
          const mant = lab.slice(0, k);
          const exp = lab
            .slice(k + 3)
            .split("")
            .map((c) => SUP[c] || c)
            .join("");
          const fB = `bold ${TICK_SIZE}px ${FONT}`;
          const fX = `${TICK_SIZE - 3}px ${FONT}`;
          const fE = `bold ${TICK_SIZE - 5}px ${FONT}`;
          ctx.font = fB;
          const wm = ctx.measureText(mant).width;
          const w10 = ctx.measureText("10").width;
          ctx.font = fX;
          const wx = ctx.measureText("×").width;
          ctx.font = fE;
          const we = ctx.measureText(exp).width;
          const total = wm + 1 + wx + 1 + w10 + 0.5 + we;
          let x = right - total;
          const y = ys.getPixelForValue(t.value) + TICK_SIZE * 0.36;
          ctx.font = fB;
          ctx.fillText(mant, x, y);
          x += wm + 1;
          ctx.font = fX;
          ctx.fillText("×", x, y - 0.5);
          x += wx + 1;
          ctx.font = fB;
          ctx.fillText("10", x, y);
          x += w10 + 0.5;
          ctx.font = fE;
          ctx.fillText(exp, x, y - 6);
        });
        ctx.restore();
      },
    };

    // a bar whose mean lies below this segment is not shown in it
    const barY = (m: number) => (m < s.min ? null : m);

    const chart = new Chart(ref.current as HTMLCanvasElement, {
      type: "bar",
      data: {
        datasets: [
          {
            type: "bar",
            data: [
              { x: 0, y: barY(p.mean[0]) },
              { x: 1, y: barY(p.mean[1]) },
            ],
            backgroundColor: [BAR_AHI, BAR_HFP],
            borderWidth: 0,
            barThickness: 48,
            clip: 0,
            order: 2,
          } as any,
          {
            type: "scatter",
            data: segPts.map((q) => ({ x: q.x, y: q.y })),
            pointBackgroundColor: segPts.map((q) => q.c),
            pointBorderWidth: 0,
            pointRadius: 6.5,
            pointHoverRadius: 6.5,
            clip: 12,
            order: 1,
          } as any,
        ],
      },
      options: {
        responsive: false,
        animation: false,
        devicePixelRatio: 1,
        events: [],
        layout: { padding: { left: 0, right: PR, top: PAD, bottom: isBottom ? 0 : PAD } },
        plugins: { legend: { display: false }, tooltip: { enabled: false }, title: { display: false } },
        scales: {
          x: {
            type: "linear",
            min: xmin,
            max: xmax,
            offset: false,
            display: isBottom,
            afterFit: (sc: any) => {
              if (isBottom) sc.height = PB;
            },
            afterBuildTicks: (sc: any) => {
              sc.ticks = [{ value: 0 }, { value: 1 }];
            },
            ticks: {
              autoSkip: false,
              maxRotation: 0,
              padding: 2,
              color: "#000",
              font: { family: FONT, size: 16, weight: "bold" },
              callback: (_v: any, i: number) => CATEGORIES[i],
            },
            grid: { display: false },
            border: { display: true, color: "#000", width: 2 },
          },
          y: {
            type: "linear",
            min: s.min,
            max: s.max,
            afterFit: (sc: any) => {
              sc.width = LW;
            },
            afterBuildTicks: (sc: any) => {
              sc.ticks = s.ticks.map((v) => ({ value: v }));
            },
            ticks: {
              autoSkip: false,
              padding: TICK_PAD,
              color: "#000",
              font: { family: FONT, size: TICK_SIZE, weight: "bold" },
              callback: (_v: any, i: number) => {
                const lab = s.labels[i] || "";
                return lab.indexOf("×10") >= 0 ? "" : lab;
              },
            },
            grid: { display: true, drawOnChartArea: false, drawTicks: true, tickLength: TICK_LEN, tickWidth: 2, tickColor: "#000", color: "#000" },
            border: { display: true, color: "#000", width: 2 },
          },
        },
      } as any,
      plugins: [errPlugin, sciLabels],
    });
    return () => chart.destroy();
  }, []);

  return <canvas ref={ref} width={cw} height={ch} style={{ position: "absolute", left, top, width: cw, height: ch }} />;
}

// ---------------- caption ----------------
const CAPTION_LINES: { ls: number; node: any }[] = [
  { ls: 0.05, node: "Gene expression of candidate maturation markers in adult human islets and fetal pancreas. QPCR-based analysis of gene expression of several candidate" },
  { ls: 0.45, node: "maturation markers in adult human islets (“AHI”) and human fetal pancreas (“HFP”). All genes were normalized to β actin within the same sample, then" },
  {
    ls: 0.25,
    node: (
      <>
        normalized to undifferentiated H1 cells and presented as a ratio of gene expression over <i>CHGA</i> to normalize for differences in endocrine mass between the
      </>
    ),
  },
  { ls: 0.18, node: "various samples. Fold changes (FC) listed highlight major differences in gene expression between AHI and HFP. Statistical indicators directly above each" },
  {
    ls: 0.55,
    node: (
      <>
        bar are compared to AHI (ns = not significant, *<i>p</i> &lt; 0.05, **<i>p</i> &lt; 0.01, ***<i>p</i> &lt; 0.001).
      </>
    ),
  },
];

// ---------------- app ----------------
export default function App() {
  const abs: any = { position: "absolute" };
  const capFont = `17.5px "Open Sans", "Noto Sans", sans-serif`;
  return (
    <div style={{ position: "absolute", left: 0, top: 0, width: 1373, height: 1390, background: "#fff", overflow: "hidden" }}>
      <div style={{ ...abs, left: 7, top: 7, width: 1358, height: 1376, border: "1px solid #cfcfcf", borderRadius: 6 }} />
      {PANELS.map((p, pi) =>
        p.segs.map((s: Seg, si: number) => <SegChart key={pi + "-" + si} p={p} s={s} isBottom={si === p.segs.length - 1} />)
      )}
      {PANELS.map((p, pi) => (
        <div
          key={"t" + pi}
          style={{ ...abs, left: p.tx - 150, top: p.ty - 12, width: 300, height: 24, lineHeight: "24px", textAlign: "center",
            font: `italic bold 20px ${FONT}`, whiteSpace: "pre", color: "#000", zIndex: 2 }}
        >
          {p.title}
        </div>
      ))}
      {YTITLE_Y.map((y, i) => (
        <div
          key={"y" + i}
          style={{ ...abs, left: 61.7, top: y, transform: "translate(-50%, -50%) rotate(-90deg)", whiteSpace: "nowrap",
            font: `bold 17.5px ${FONT}`, color: "#000", zIndex: 2 }}
        >
          Ratio (Unitless)
        </div>
      ))}
      {SIGNS.map((g, i) => {
        const star = g.t.startsWith("*");
        return (
          <div
            key={"s" + i}
            style={{ ...abs, left: g.x, top: g.y + (star ? 4 : 0), whiteSpace: "nowrap", lineHeight: "18px",
              transform: `translate(-50%, -50%)${g.rot ? " rotate(-45deg)" : ""}`,
              font: `${star ? 18 : 16.5}px ${FONT}`, color: "#111", zIndex: 2 }}
          >
            {g.t}
          </div>
        );
      })}
      {FC_BOXES.map((b, i) => (
        <div
          key={"f" + i}
          style={{ ...abs, left: b.x, top: b.y, width: b.w, height: b.h, boxSizing: "border-box", border: "3px solid #000",
            background: "#fff", display: "flex", flexDirection: "column", justifyContent: "center", alignItems: "center",
            font: `italic 22px ${FONT}`, lineHeight: "24px", color: "#111", zIndex: 2 }}
        >
          <div>FC=</div>
          <div>{b.v}</div>
        </div>
      ))}
      <div style={{ ...abs, left: 38, top: 1225, font: capFont, color: "#555", letterSpacing: "2.2px", lineHeight: "24px" }}>
        FIGURE 4
      </div>
      {CAPTION_LINES.map((ln, i) => (
        <div
          key={"c" + i}
          style={{ ...abs, left: 38, top: 1249 + i * 24, font: capFont, lineHeight: "24px", color: "#555", whiteSpace: "nowrap", letterSpacing: `${ln.ls}px` }}
        >
          {ln.node}
        </div>
      ))}
    </div>
  );
}
